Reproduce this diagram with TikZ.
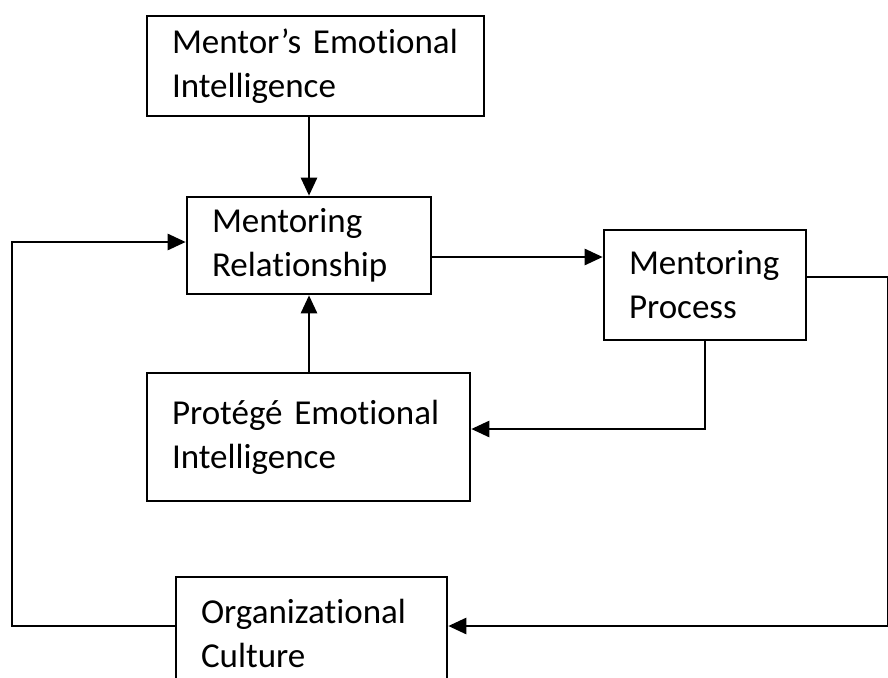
\documentclass[tikz,border=0pt]{standalone}
\usepackage{fontspec}
\setmainfont{Carlito}[Ligatures=NoCommon]
\usetikzlibrary{arrows.meta}

\begin{document}
\begin{tikzpicture}[x=1pt,y=-1pt]

\tikzset{block/.style = {shape=rectangle,draw,line width=2.6pt,inner sep=0pt,align=left,
  minimum width=#1,text width=#1-50pt,font=\fontsize{35}{44}\selectfont}}
\tikzset{edge/.style = {->,> = {Triangle[length=18pt,width=16pt]},line width=2.6pt}}
\useasboundingbox (0,0) rectangle (888,677);
\clip (0,0) rectangle (888,677);
%boxes
\node[block=337pt, minimum height=100pt] (mentor) at (315.5,66) {Mentor’s~Emotional\\Intelligence};
\node[block=244pt, minimum height=97pt] (rel) at (309,245.5) {Mentoring\\Relationship};
\node[block=202pt, minimum height=110pt] (process) at (705,285) {Mentoring\\Process};
\node[block=323pt, minimum height=128pt] (protege) at (308.5,437) {Protégé~Emotional\\Intelligence};
\node[block=271pt, minimum height=112pt] (culture) at (311.5,633) {Organizational\\Culture};
%rails
\coordinate (right) at (888,277);
\coordinate (left) at (12,626);
%edges
\draw[edge] (mentor.south -| rel.north) -- (rel.north);
\draw[edge] (protege.north -| rel.south) -- (rel.south);
\draw[edge] (rel.east |- 0,257) -- (process.west |- 0,257);
\draw[edge] (process.east |- right) -- (right) |- (culture.east |- left);
\draw[edge] (process.south) |- (protege.east |- 0,429);
\draw[edge] (culture.west |- left) -- (left) |- (rel.west |- 0,242);

\end{tikzpicture}
\end{document}
